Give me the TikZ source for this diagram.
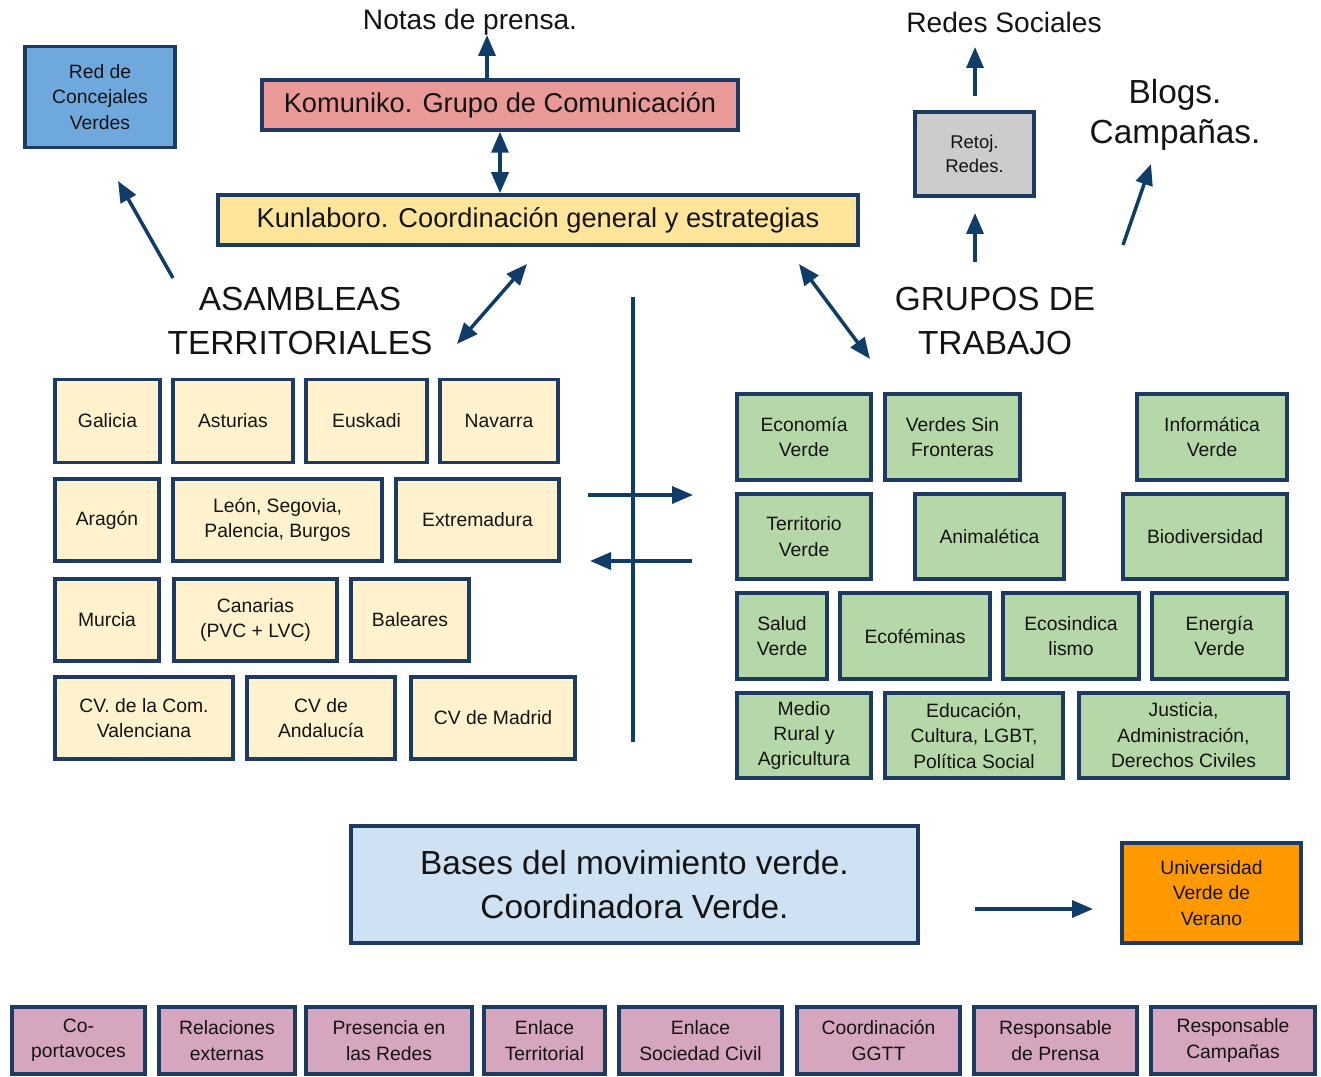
\documentclass[tikz,border=0pt]{standalone}
\usepackage{fontspec}
\setmainfont{Liberation Sans}
\usetikzlibrary{arrows.meta}
\definecolor{edge}{HTML}{1C3A62}
\definecolor{navy}{HTML}{103C68}
\definecolor{ink}{HTML}{141414}
\definecolor{redblue}{HTML}{6FA8DC}
\definecolor{rose}{HTML}{EA9999}
\definecolor{butter}{HTML}{FFE599}
\definecolor{stone}{HTML}{CCCCCC}
\definecolor{cream}{HTML}{FFF2CC}
\definecolor{leaf}{HTML}{B6D7A8}
\definecolor{sky}{HTML}{CFE2F3}
\definecolor{amber}{HTML}{FF9900}
\definecolor{mauve}{HTML}{D5A6BD}
\begin{document}
\begin{tikzpicture}[x=0.02cm,y=-0.02cm,
  box/.style={draw=edge,line width=2pt,align=center,inner sep=0pt,text=ink,
    font=\fontsize{11}{14.5}\selectfont},
  sz/.style 2 args={minimum width=#1*0.02cm,minimum height=#2*0.02cm},
  region/.style={box,fill=cream},
  grupo/.style={box,fill=leaf},
  cargo/.style={box,fill=mauve},
  big/.style={align=center,text=ink,font=\fontsize{19}{25}\selectfont},
  mid/.style={align=center,text=ink,font=\fontsize{16}{20}\selectfont},
  arr/.style={draw=navy,line width=2pt,-{Triangle[length=0.42cm,width=0.34cm]}},
  biarr/.style={draw=navy,line width=2pt,
    {Triangle[length=0.42cm,width=0.34cm]}-{Triangle[length=0.42cm,width=0.34cm]}}]
\useasboundingbox (0,0) rectangle (1321,1077);

% top
\node[box,fill=redblue,sz={150}{101}] (red) at (100,97) {Red de\\Concejales\\Verdes};
\node[box,fill=rose,sz={476}{50},font=\fontsize{15.5}{20}\selectfont] (komuniko) at (500,105)
  {Komuniko. Grupo de Comunicación};
\node[box,fill=butter,sz={640}{50},font=\fontsize{15.5}{20}\selectfont] (kunlaboro) at (538,220)
  {Kunlaboro. Coordinación general y estrategias};
\node[box,fill=stone,sz={119}{84},font=\fontsize{10.5}{14}\selectfont] (retoj) at (974.5,154)
  {Retoj.\\Redes.};
\node[mid] (notas) at (470,22) {Notas de prensa.};
\node[mid] (redes) at (1004,22) {Redes Sociales};
\node[big,font=\fontsize{19}{23}\selectfont] (blogs) at (1175,115) {Blogs.\\Campañas.};
\node[big] (asam) at (300,321) {ASAMBLEAS\\TERRITORIALES};
\node[big] (grupos) at (995,321) {GRUPOS DE\\TRABAJO};

% asambleas territoriales
\node[region,sz={105}{83}] (galicia) at (107.5,421) {Galicia};
\node[region,sz={120}{83}] (asturias) at (233,421) {Asturias};
\node[region,sz={121}{83}] (euskadi) at (366.5,421) {Euskadi};
\node[region,sz={118}{83}] (navarra) at (499,421) {Navarra};
\node[region,sz={104}{82}] (aragon) at (107,520) {Aragón};
\node[region,sz={209}{82}] (leon) at (277.5,520) {León, Segovia,\\Palencia, Burgos};
\node[region,sz={163}{82}] (extremadura) at (477.5,520) {Extremadura};
\node[region,sz={104}{82}] (murcia) at (107,620) {Murcia};
\node[region,sz={163}{82}] (canarias) at (255.5,620) {Canarias\\(PVC + LVC)};
\node[region,sz={118}{82}] (baleares) at (410,620) {Baleares};
\node[region,sz={178}{82}] (valencia) at (144,718) {CV. de la Com.\\Valenciana};
\node[region,sz={148}{82}] (andalucia) at (321,718) {CV de\\Andalucía};
\node[region,sz={164}{82}] (madrid) at (493,718) {CV de Madrid};

% grupos de trabajo
\node[grupo,sz={134}{86}] (economia) at (804,437) {Economía\\Verde};
\node[grupo,sz={135}{86}] (sinfronteras) at (952.5,437) {Verdes Sin\\Fronteras};
\node[grupo,sz={150}{86}] (informatica) at (1212,437) {Informática\\Verde};
\node[grupo,sz={134}{85}] (territorio) at (804,536.5) {Territorio\\Verde};
\node[grupo,sz={149}{85}] (animaletica) at (989.5,536.5) {Animalética};
\node[grupo,sz={164}{85}] (biodiversidad) at (1205,536.5) {Biodiversidad};
\node[grupo,sz={90}{86}] (salud) at (782,636) {Salud\\Verde};
\node[grupo,sz={150}{86}] (ecofeminas) at (915,636) {Ecoféminas};
\node[grupo,sz={136}{86}] (ecosindica) at (1071,636) {Ecosindica\\lismo};
\node[grupo,sz={135}{86}] (energia) at (1219.5,636) {Energía\\Verde};
\node[grupo,sz={134}{85}] (rural) at (804,735.5) {Medio\\Rural y\\Agricultura};
\node[grupo,sz={178}{85}] (educacion) at (974,735.5) {Educación,\\Cultura, LGBT,\\Política Social};
\node[grupo,sz={209}{85}] (justicia) at (1183.5,735.5) {Justicia,\\Administración,\\Derechos Civiles};

% bases
\node[box,fill=sky,sz={567}{117},font=\fontsize{19}{25}\selectfont] (bases) at (634.5,884.5)
  {Bases del movimiento verde.\\Coordinadora Verde.};
\node[box,fill=amber,sz={179}{100}] (universidad) at (1211.5,893) {Universidad\\Verde de\\Verano};

% cargos
\node[cargo,sz={133}{67}] (coport) at (78.5,1040.5) {Co-\\portavoces};
\node[cargo,sz={136}{67}] (externas) at (227,1040.5) {Relaciones\\externas};
\node[cargo,sz={166}{67}] (presencia) at (389,1040.5) {Presencia en\\las Redes};
\node[cargo,sz={121}{67}] (enlaceterr) at (544.5,1040.5) {Enlace\\Territorial};
\node[cargo,sz={163}{67}] (enlacesoc) at (700.5,1040.5) {Enlace\\Sociedad Civil};
\node[cargo,sz={163}{67}] (coordggtt) at (878.5,1040.5) {Coordinación\\GGTT};
\node[cargo,sz={163}{67}] (respprensa) at (1055.5,1040.5) {Responsable\\de Prensa};
\node[cargo,sz={164}{67}] (respcamp) at (1233,1040.5) {Responsable\\Campañas};

% free ends of the connectors
\coordinate (notasin) at (487,35);
\coordinate (asamout) at (173,278);
\coordinate (redin) at (118,181);
\coordinate (kunleft) at (527,264);
\coordinate (asamin) at (457,344);
\coordinate (kunright) at (799,264);
\coordinate (grupin) at (870,359);
\coordinate (grupout) at (975,262);
\coordinate (retojin) at (975,213);
\coordinate (retojout) at (975,96);
\coordinate (redesin) at (975,47);
\coordinate (blogsout) at (1123,245);
\coordinate (blogsin) at (1151,164);
\coordinate (axistop) at (633,297);
\coordinate (axisbot) at (633,742);
\coordinate (toright) at (588,495);
\coordinate (righttip) at (693,495);
\coordinate (toleft) at (692,561);
\coordinate (lefttip) at (590,561);
\coordinate (basesout) at (975,909);
\coordinate (univin) at (1093,909);

% connectors
\draw[arr] (komuniko.north -| notasin) -- (notasin);
\draw[biarr] (komuniko.south) -- (komuniko.south |- kunlaboro.north);
\draw[arr] (asamout) -- (redin);
\draw[biarr] (kunleft) -- (asamin);
\draw[biarr] (kunright) -- (grupin);
\draw[arr] (grupout) -- (retojin);
\draw[arr] (retojout) -- (redesin);
\draw[arr] (blogsout) -- (blogsin);
\draw[navy,line width=2pt] (axistop) -- (axisbot);
\draw[arr] (toright) -- (righttip);
\draw[arr] (toleft) -- (lefttip);
\draw[arr] (basesout) -- (univin);
\end{tikzpicture}
\end{document}
